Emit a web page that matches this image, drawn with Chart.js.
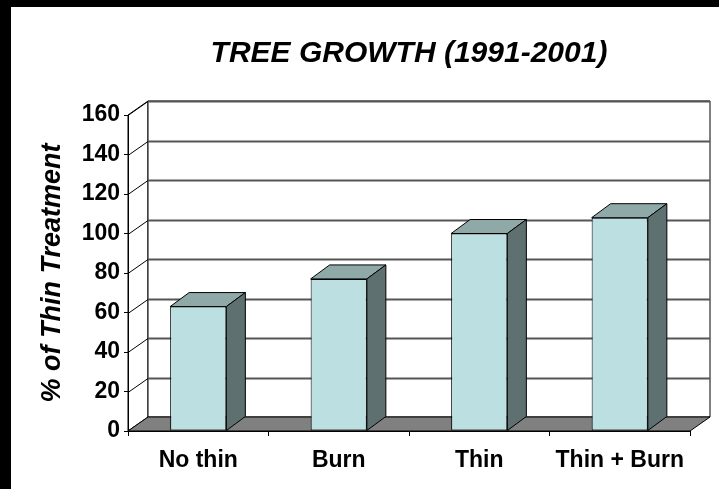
<!DOCTYPE html>
<html>
<head>
<meta charset="utf-8">
<script src="https://cdn.jsdelivr.net/npm/chart.js@4.4.1/dist/chart.umd.min.js"></script>
<style>
  body { margin: 0; background: #fff; }
  canvas { display: block; }
</style>
</head>
<body>
<canvas id="growth" width="719" height="489"></canvas>
<script>
var treatments = ["No thin", "Burn", "Thin", "Thin + Burn"];
var growthPct = [63, 77, 100, 108];
var yTicks = [0, 20, 40, 60, 80, 100, 120, 140, 160];

var FONT = '"Liberation Sans", Arial, sans-serif';
var DX = 20, DY = -14;     // depth of the box
var BDX = 19, BDY = -14;   // depth of a bar

// walls, floor and gridlines behind everything
var box3d = {
  id: "box3d",
  beforeDraw: function (chart) {
    var c = chart.ctx, a = chart.chartArea, y = chart.scales.y;
    var L = a.left, R = a.right, T = a.top, B = a.bottom;
    c.save();
    c.fillStyle = "#fff";
    c.fillRect(0, 0, chart.width, chart.height);
    c.fillStyle = "#000";
    c.fillRect(0, 0, chart.width, 7);
    c.fillRect(0, 0, 11, chart.height);

    c.lineWidth = 1;
    c.strokeStyle = "#000";
    // left wall
    c.beginPath();
    c.moveTo(L, T); c.lineTo(L + DX, T + DY); c.lineTo(L + DX, B + DY); c.lineTo(L, B);
    c.closePath();
    c.fillStyle = "#fff"; c.fill(); c.stroke();
    // back wall
    c.beginPath();
    c.rect(L + DX, T + DY, R - L, B - T);
    c.fill(); c.stroke();
    // gridlines
    yTicks.forEach(function (v) {
      if (v === 0) return;
      var py = Math.round(y.getPixelForValue(v)) + 0.5;
      c.strokeStyle = "#555";
      c.lineWidth = 2;
      c.beginPath();
      c.moveTo(L + DX, py + DY); c.lineTo(R + DX, py + DY);
      c.stroke();
      c.strokeStyle = "#000";
      c.lineWidth = 1;
      c.beginPath();
      c.moveTo(L, py); c.lineTo(L + DX, py + DY);
      c.stroke();
    });
    // floor
    c.beginPath();
    c.moveTo(L, B); c.lineTo(R, B); c.lineTo(R + DX, B + DY); c.lineTo(L + DX, B + DY);
    c.closePath();
    c.fillStyle = "#808080"; c.fill();
    c.strokeStyle = "#000"; c.lineWidth = 1; c.stroke();
    c.restore();
  },
  afterDatasetsDraw: function (chart) {
    var c = chart.ctx;
    var meta = chart.getDatasetMeta(0);
    c.save();
    c.strokeStyle = "#000";
    c.lineWidth = 1;
    meta.data.forEach(function (bar) {
      var l = bar.x - bar.width / 2, r = bar.x + bar.width / 2;
      var t = bar.y, b = bar.base;
      // top
      c.beginPath();
      c.moveTo(l, t); c.lineTo(l + BDX, t + BDY); c.lineTo(r + BDX, t + BDY); c.lineTo(r, t);
      c.closePath();
      c.fillStyle = "#8FA9A9"; c.fill(); c.stroke();
      // side
      c.beginPath();
      c.moveTo(r, t); c.lineTo(r + BDX, t + BDY); c.lineTo(r + BDX, b + BDY); c.lineTo(r, b);
      c.closePath();
      c.fillStyle = "#5E7070"; c.fill(); c.stroke();
    });
    c.restore();
  }
};

new Chart(document.getElementById("growth").getContext("2d"), {
  type: "bar",
  data: {
    labels: treatments,
    datasets: [
      {
        label: "% of Thin Treatment",
        data: growthPct,
        backgroundColor: "#BCE0E2",
        borderColor: "#000",
        borderWidth: 1,
        borderSkipped: false,
        categoryPercentage: 1,
        barPercentage: 0.4,
      },
    ],
  },
  options: {
    responsive: false,
    animation: false,
    layout: { padding: { left: 11, right: 29, top: 0, bottom: 0 } },
    plugins: {
      legend: { display: false },
      tooltip: { enabled: false },
      title: {
        display: true,
        text: "TREE GROWTH (1991-2001)",
        color: "#000",
        fullSize: false,
        font: { family: FONT, size: 30, weight: "bold", style: "italic" },
        padding: { top: 36, bottom: 43 },
      },
    },
    scales: {
      x: {
        grid: { offset: true, drawOnChartArea: false, tickLength: 5, color: "#000" },
        border: { display: true, color: "#000", width: 1 },
        ticks: { color: "#000", padding: 11, font: { family: FONT, size: 23, weight: "bold" } },
        afterFit: function (s) { s.height = 58; },
      },
      y: {
        min: 0,
        max: 160,
        afterBuildTicks: function (s) {
          s.ticks = yTicks.map(function (v) { return { value: v }; });
        },
        grid: { drawOnChartArea: false, tickLength: 4, color: "#000" },
        border: { display: true, color: "#000", width: 1 },
        ticks: { color: "#000", padding: 4, font: { family: FONT, size: 23, weight: "bold" } },
        title: {
          display: true,
          text: "% of Thin Treatment",
          color: "#000",
          padding: { top: 25, bottom: 0 },
          font: { family: FONT, size: 27, weight: "bold", style: "italic" },
        },
        afterFit: function (s) { s.width = 117; },
      },
    },
  },
  plugins: [box3d],
});
</script>
</body>
</html>
